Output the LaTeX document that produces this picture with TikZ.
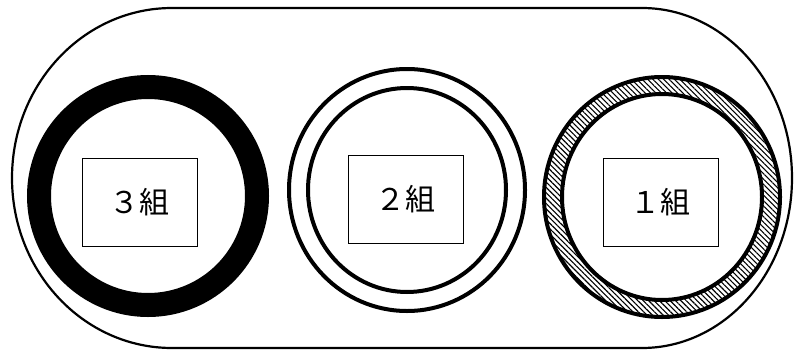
\documentclass[tikz,border=0pt]{standalone}
\usepackage{fontspec}
\newfontfamily\jpfont{Noto Sans CJK JP}
\usetikzlibrary{patterns.meta}
\tikzset{
  stadium/.style={draw=black, line width=2.2pt},
  ring/.style={draw=black, line width=4pt},
  labelbox/.style={draw=black, line width=1pt, minimum width=115pt, minimum height=88pt,
    inner sep=0pt, font=\jpfont\fontsize{30}{32}\selectfont},
  hatch/.style={pattern={Lines[angle=-45,distance=3.8pt,line width=1.1pt]}, pattern color=black}
}
\begin{document}
\begin{tikzpicture}[x=1pt,y=-1pt]
\useasboundingbox (0,0) rectangle (795,356);
% outer stadium
\draw[stadium] (175,8) -- (642,8) arc[start angle=-90, end angle=90, x radius=150, y radius=170]
  -- (172,348) arc[start angle=90, end angle=270, x radius=160, y radius=170] -- cycle;
% left ring (3組)
\coordinate (c3) at (148,196);
\draw[line width=24pt] (c3) circle[radius=109];
% middle double ring (2組)
\coordinate (c2) at (407,190);
\draw[ring] (c2) circle[x radius=118, y radius=121];
\draw[ring] (c2) circle[x radius=99, y radius=102];
% right hatched ring (1組)
\coordinate (c1) at (662,197);
\fill[hatch, even odd rule] (c1) circle[x radius=118, y radius=120] (c1) circle[x radius=100, y radius=103];
\draw[ring] (c1) circle[x radius=118, y radius=120];
\draw[ring] (c1) circle[x radius=100, y radius=103];
% label boxes
\node[labelbox] (b3) at (139.5,202) {３組};
\node[labelbox] (b2) at (405.5,199.5) {２組};
\node[labelbox] (b1) at (660.5,202) {１組};
\end{tikzpicture}
\end{document}
